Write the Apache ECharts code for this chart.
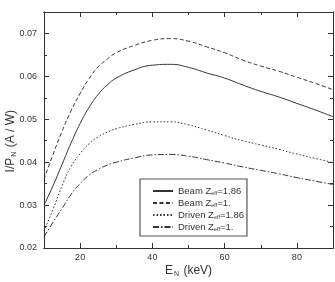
<!DOCTYPE html>
<html>
<head>
<meta charset="utf-8">
<script src="https://cdn.jsdelivr.net/npm/echarts@6/dist/echarts.min.js"></script>
<style>
  html, body { margin: 0; padding: 0; background: #fff; }
  #chart { width: 335px; height: 282px; }
</style>
</head>
<body>
<div id="chart"></div>
<script>
// beam energy, keV
const energy = [10, 12.5, 15, 17.5, 20, 22.5, 25, 27.5, 30, 35, 40, 45, 50, 55, 60, 65, 70, 75, 80, 85, 90];

// I/P_N (A / W)
const beam186 = [0.0300, 0.0345, 0.0395, 0.0445, 0.0490, 0.0528, 0.0558, 0.0580, 0.0596, 0.0615, 0.0626, 0.0628, 0.0621, 0.0608, 0.0596, 0.0580, 0.0565, 0.0552, 0.0537, 0.0522, 0.0506];
const beam1 = [0.0360, 0.0418, 0.0472, 0.0520, 0.0560, 0.0595, 0.0622, 0.0640, 0.0655, 0.0672, 0.0684, 0.0688, 0.0682, 0.0669, 0.0655, 0.0638, 0.0624, 0.0612, 0.0598, 0.0584, 0.0569];
const driven186 = [0.0240, 0.0290, 0.0345, 0.0390, 0.0420, 0.0443, 0.0459, 0.0470, 0.0478, 0.0488, 0.0494, 0.0494, 0.0487, 0.0475, 0.0462, 0.0450, 0.0440, 0.0430, 0.0419, 0.0409, 0.0399];
const driven1 = [0.0226, 0.0260, 0.0292, 0.0325, 0.0350, 0.0370, 0.0383, 0.0393, 0.0400, 0.0410, 0.0417, 0.0418, 0.0414, 0.0406, 0.0398, 0.0389, 0.0381, 0.0373, 0.0364, 0.0356, 0.0348];

const xMajor = [20, 40, 60, 80];
const yMajor = [0.02, 0.03, 0.04, 0.05, 0.06, 0.07];

const names = ['Beam 1.86', 'Beam 1.', 'Driven 1.86', 'Driven 1.'];
const legendText = {
  'Beam 1.86': '{a|Beam Z}{s|eff}{a|=1.86}',
  'Beam 1.': '{a|Beam Z}{s|eff}{a|=1.}',
  'Driven 1.86': '{a|Driven Z}{s|eff}{a|=1.86}',
  'Driven 1.': '{a|Driven Z}{s|eff}{a|=1.}',
};

const ink = '#333';
const font = 'Liberation Sans, Arial, sans-serif';

function xAx(pos, major, labels) {
  return {
    type: 'value', position: pos, min: 10, max: 90, interval: 10,
    axisLine: { show: true, onZero: false, lineStyle: { color: ink, width: 1 } },
    axisTick: major
      ? { show: true, inside: true, length: 5, customValues: xMajor, lineStyle: { color: ink } }
      : { show: true, inside: true, length: 3, lineStyle: { color: ink } },
    axisLabel: labels
      ? { show: true, customValues: xMajor, color: ink, fontSize: 9, fontFamily: font, margin: 5 }
      : { show: false },
    splitLine: { show: false },
  };
}

function yAx(pos, major, labels) {
  return {
    type: 'value', position: pos, min: 0.02, max: 0.075, interval: 0.005,
    axisLine: { show: true, onZero: false, lineStyle: { color: ink, width: 1 } },
    axisTick: major
      ? { show: true, inside: true, length: 5, customValues: yMajor, lineStyle: { color: ink } }
      : { show: true, inside: true, length: 3, lineStyle: { color: ink } },
    axisLabel: labels
      ? { show: true, customValues: yMajor, color: ink, fontSize: 9, fontFamily: font, margin: 7,
          formatter: (v) => v.toFixed(2) }
      : { show: false },
    splitLine: { show: false },
  };
}

const dashes = ['solid', [4, 2.5], [1.5, 2], [6, 2, 1.5, 2]];
const values = [beam186, beam1, driven186, driven1];

const chart = echarts.init(document.getElementById('chart'));
chart.setOption({
  animation: false,
  backgroundColor: '#fff',
  grid: { left: 44, right: 2, top: 12, bottom: 34, containLabel: false },
  xAxis: [xAx('bottom', false, false), xAx('bottom', true, true), xAx('top', false, false), xAx('top', true, false)],
  yAxis: [yAx('left', false, false), yAx('left', true, true), yAx('right', false, false), yAx('right', true, false)],
  legend: {
    orient: 'vertical',
    left: 140, top: 179,
    padding: [7, 3, 4, 12],
    itemWidth: 20, itemHeight: 8, itemGap: 2,
    borderColor: '#555', borderWidth: 1.2,
    itemStyle: { opacity: 0 },
    data: names,
    formatter: (n) => legendText[n],
    textStyle: {
      color: ink, fontFamily: font,
      rich: {
        a: { fontSize: 9.5, fontFamily: font, color: ink, lineHeight: 10 },
        s: { fontSize: 5.5, fontFamily: font, color: ink, lineHeight: 5, padding: [4, 0, 0, 0] },
      },
    },
  },
  graphic: [
    {
      type: 'text', left: 5, top: 110, rotation: Math.PI / 2,
      style: {
        text: '{a|I/P}{s|N}{a| (A / W)}',
        rich: {
          a: { fontSize: 12, fontFamily: font, fill: ink },
          s: { fontSize: 7, fontFamily: font, fill: ink, padding: [7, 1, 0, 1] },
        },
      },
    },
    {
      type: 'text', left: 165, top: 265,
      style: {
        text: '{a|E}{s|N}{a| (keV)}',
        rich: {
          a: { fontSize: 12, fontFamily: font, fill: ink },
          s: { fontSize: 7, fontFamily: font, fill: ink, padding: [7, 1, 0, 1] },
        },
      },
    },
  ],
  series: names.map((n, i) => ({
    name: n,
    type: 'line',
    xAxisIndex: 0,
    yAxisIndex: 0,
    smooth: true,
    symbol: 'none',
    data: energy.map((e, j) => [e, values[i][j]]),
    lineStyle: { color: ink, width: 1, type: dashes[i] },
    itemStyle: { color: ink },
  })),
});
</script>
</body>
</html>
